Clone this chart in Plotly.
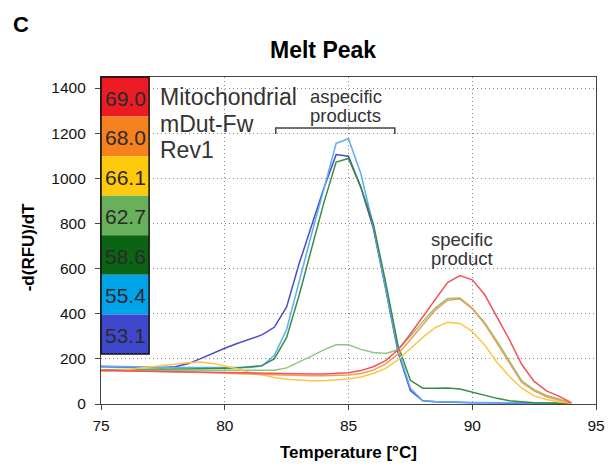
import plotly.graph_objects as go

# ---------------- data ----------------
temps = [75 + 0.5 * i for i in range(39)]  # 75.0 ... 94.0 °C

anneal_labels = ["69.0", "68.0", "66.1", "62.7", "58.6", "55.4", "53.1"]

s_690 = [148, 147, 146, 145, 144, 143, 141, 140, 139, 138, 137, 136, 135, 134, 134, 133, 133, 133, 133,
         134, 138, 148, 165, 192, 240, 310, 385, 465, 538, 569, 550, 485, 385, 285, 175, 100, 58, 35, 6]
s_680 = [150, 149, 148, 147, 146, 145, 143, 141, 140, 138, 136, 134, 132, 130, 128, 127, 126, 125, 125,
         126, 128, 135, 150, 178, 222, 285, 350, 415, 460, 465, 422, 355, 270, 180, 95, 58, 32, 18, 4]
s_661 = [145, 148, 152, 158, 165, 172, 178, 183, 186, 180, 168, 156, 140, 127, 117, 110, 105, 103, 103,
         106, 111, 120, 135, 158, 195, 245, 295, 338, 362, 357, 322, 262, 185, 122, 70, 36, 20, 10, 3]
s_627 = [150, 150, 150, 150, 150, 150, 150, 150, 150, 150, 150, 149, 148, 148, 150, 160, 185, 212, 240,
         262, 262, 242, 228, 224, 240, 300, 365, 425, 468, 470, 425, 360, 278, 190, 103, 64, 38, 22, 5]
s_586 = [152, 152, 153, 153, 154, 154, 155, 155, 156, 157, 158, 160, 165, 170, 200, 295, 480, 690, 890,
         1072, 1088, 960, 800, 540, 260, 105, 70, 70, 71, 66, 52, 38, 25, 14, 8, 5, 4, 3, 2]
s_554 = [168, 166, 165, 164, 163, 162, 162, 161, 160, 160, 160, 161, 162, 168, 215, 330, 545, 750, 950,
         1155, 1175, 1020, 790, 520, 240, 70, 14, 11, 9, 8, 7, 7, 6, 6, 5, 4, 4, 3, 2]
s_531 = [165, 164, 163, 162, 161, 162, 165, 178, 200, 225, 247, 268, 288, 306, 340, 430, 620, 790, 955,
         1105, 1098, 960, 780, 510, 230, 60, 14, 10, 8, 7, 6, 6, 5, 5, 4, 4, 3, 3, 2]

series = [s_690, s_680, s_661, s_627, s_586, s_554, s_531]

line_colors = ["#f2535b", "#f59a55", "#ffc445", "#88c97d", "#3a8c45", "#5aaef5", "#4b4bc6"]
block_colors = ["#ed1c24", "#f7801f", "#ffc90e", "#69b05a", "#0a6414", "#00a2e8", "#3f48cc"]

primer_lines = ["Mitochondrial", "mDut-Fw", "Rev1"]
aspecific_lines = ["aspecific", "products"]
specific_lines = ["specific", "product"]

# ---------------- figure ----------------
FONT = "Arial, Liberation Sans, sans-serif"
PL, PR, PT, PB = 101, 605, 77, 404  # plot area in pixels


def px(x):
    return (x - PL) / (PR - PL)


def py(y):
    return (PB - y) / (PB - PT)


fig = go.Figure()

for vals, col, lab in reversed(list(zip(series, line_colors, anneal_labels))):
    fig.add_trace(go.Scatter(x=temps, y=vals, mode="lines", name=lab,
                             line=dict(color=col, width=1.5), showlegend=False,
                             hoverinfo="skip"))

axis_common = dict(showline=True, linecolor="#444", linewidth=1.2, mirror=True,
                   showgrid=True, gridcolor="#888", griddash="1px,3px", gridwidth=1,
                   ticks="outside", ticklen=5, tickcolor="#444",
                   tickfont=dict(family=FONT, size=15.5, color="#111"), zeroline=False)

fig.update_xaxes(range=[75, 95], dtick=5, tick0=75, ticklabelstandoff=2, **axis_common)
fig.update_yaxes(range=[0, 1449], dtick=200, tick0=0, ticklabelstandoff=6, **axis_common)

# legend colour blocks
n = len(anneal_labels)
top, bottom = 1.0, py(354)
h = (top - bottom) / n
bx1 = px(150)
for i, (lab, col) in enumerate(zip(anneal_labels, block_colors)):
    y1 = top - i * h
    y0 = y1 - h
    fig.add_shape(type="rect", xref="paper", yref="paper", x0=0, x1=bx1, y0=y0, y1=y1,
                  fillcolor=col, line=dict(width=0), layer="above")
    fig.add_annotation(xref="paper", yref="paper", x=bx1 / 2, y=(y0 + y1) / 2 - 0.004, text=lab,
                       xanchor="center", yanchor="middle",
                       showarrow=False, font=dict(family=FONT, size=21, color="#2a2a2a"))
fig.add_shape(type="rect", xref="paper", yref="paper", x0=0, x1=bx1, y0=bottom, y1=top,
              line=dict(color="#111", width=1.5), fillcolor="rgba(0,0,0,0)", layer="above")

# primer text
for txt, yy in zip(primer_lines, [97, 124, 150]):
    fig.add_annotation(xref="paper", yref="paper", x=px(159), y=py(yy), xanchor="left", yanchor="middle",
                       text=txt, showarrow=False, font=dict(family=FONT, size=23, color="#333"))
for txt, yy in zip(aspecific_lines, [96, 115]):
    fig.add_annotation(xref="paper", yref="paper", x=px(350), y=py(yy), xanchor="center", yanchor="middle",
                       text=txt, showarrow=False, font=dict(family=FONT, size=18.5, color="#333"))
for txt, yy in zip(specific_lines, [239, 258]):
    fig.add_annotation(xref="paper", yref="paper", x=px(469), y=py(yy), xanchor="center", yanchor="middle",
                       text=txt, showarrow=False, font=dict(family=FONT, size=18.5, color="#333"))

# bracket
fig.add_shape(type="path", path="M 82.06,1196 L 82.06,1223 L 86.87,1223 L 86.87,1196",
              line=dict(color="#444", width=1.5))

# panel letter, title, axis titles
fig.add_annotation(xref="paper", yref="paper", x=px(20), y=py(24), xanchor="center", yanchor="middle",
                   text="<b>C</b>", showarrow=False, font=dict(family=FONT, size=22, color="#000"))
fig.add_annotation(xref="paper", yref="paper", x=px(327), y=py(50), xanchor="center", yanchor="middle",
                   text="<b>Melt Peak</b>", showarrow=False, font=dict(family=FONT, size=23, color="#000"))
fig.add_annotation(xref="paper", yref="paper", x=px(353), y=py(452), xanchor="center", yanchor="middle",
                   text="<b>Temperature [°C]</b>", showarrow=False, font=dict(family=FONT, size=17, color="#000"))
fig.add_annotation(xref="paper", yref="paper", x=px(27), y=py(247), xanchor="center", yanchor="middle",
                   text="<b>-d(RFU)/dT</b>", textangle=-90, showarrow=False,
                   font=dict(family=FONT, size=17, color="#000"))

fig.update_layout(
    width=616, height=465,
    margin=dict(l=PL, r=616 - PR, t=PT, b=465 - PB),
    paper_bgcolor="white", plot_bgcolor="white",
)

fig.write_html("out.html")
